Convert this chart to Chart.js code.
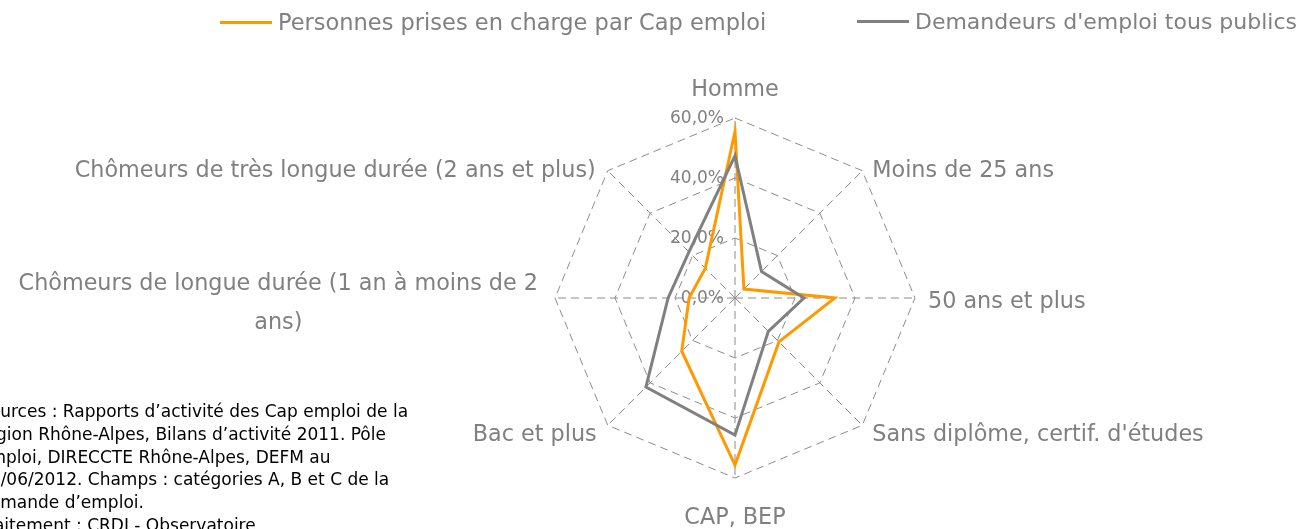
<!DOCTYPE html>
<html lang="fr">
<head>
<meta charset="utf-8">
<script src="https://cdn.jsdelivr.net/npm/chart.js@4.4.1/dist/chart.umd.min.js"></script>
<style>
  html, body { margin: 0; padding: 0; background: #fff; }
  #wrap { position: relative; width: 1307px; height: 529px; overflow: hidden; }
  #graf { position: absolute; left: 0; top: 0; }
  .leg { position: absolute; top: 9px; display: flex; align-items: center; font: 22.5px 'DejaVu Sans'; color: #808080; white-space: nowrap; }
  .leg .l { display: inline-block; width: 52px; height: 3px; margin-right: 6px; }
  #note { position: absolute; left: -21px; top: 400px; font: 17px 'DejaVu Sans'; line-height: 22.8px; color: #000; white-space: nowrap; }
</style>
</head>
<body>
<div id="wrap">
  <canvas id="graf" width="1307" height="529"></canvas>
  <div class="leg" style="left:220px"><span class="l" style="background:#ff9900"></span>Personnes prises en charge par Cap emploi</div>
  <div class="leg" style="right:10px; font-size:22px"><span class="l" style="background:#808080"></span>Demandeurs d'emploi tous publics</div>
  <div id="note">Sources : Rapports d’activité des Cap emploi de la<br>région Rhône-Alpes, Bilans d’activité 2011. Pôle<br>emploi, DIRECCTE Rhône-Alpes, DEFM au<br>30/06/2012. Champs : catégories A, B et C de la<br>demande d’emploi.<br>Traitement : CRDI - Observatoire</div>
</div>
<script>
// Catégories (sens horaire depuis le haut)
const categories = ['Homme', 'Moins de 25 ans', '50 ans et plus', "Sans diplôme, certif. d'études", 'CAP, BEP', 'Bac et plus', 'Chômeurs de longue durée (1 an à moins de 2 ans)', 'Chômeurs de très longue durée (2 ans et plus)'];
// lignes affichées pour chaque libellé
const labelLines = [['Homme'], ['Moins de 25 ans'], ['50 ans et plus'], ["Sans diplôme, certif. d'études"], ['CAP, BEP'], ['Bac et plus'], ['Chômeurs de longue durée (1 an à moins de 2', 'ans)'], ['Chômeurs de très longue durée (2 ans et plus)']];
const capEmploi = [55.5, 4.2, 33.3, 20.7, 55.7, 25.1, 15.3, 14.0];
const tousPublics = [47.4, 12.5, 23.0, 15.7, 45.7, 42.0, 22.3, 21.7];
const tickValues = [0, 20, 40, 60];
const tickLabels = ['0,0%', '20,0%', '40,0%', '60,0%'];

const gris = '#808080';
const fontLabel = "22.3px 'DejaVu Sans'";

// ticks à gauche de l'axe vertical
const ticksPlugin = {
    id: 'ticksGauche',
    beforeDatasetsDraw(chart) {
        const s = chart.scales.r;
        const ctx = chart.ctx;
        ctx.save();
        ctx.font = "17px 'DejaVu Sans'";
        ctx.fillStyle = gris;
        ctx.textAlign = 'right';
        ctx.textBaseline = 'middle';
        tickValues.forEach((v, i) => {
            const p = s.getPointPositionForValue(0, v);
            ctx.fillText(tickLabels[i], p.x - 11, p.y + 1);
        });
        ctx.restore();
    }
};

// libellés des axes
const labelsPlugin = {
    id: 'libelles',
    afterDraw(chart) {
        const s = chart.scales.r;
        const ctx = chart.ctx;
        const R = s.drawingArea;
        ctx.save();
        ctx.font = fontLabel;
        ctx.fillStyle = gris;
        ctx.textBaseline = 'middle';
        // décalages [dx, dy, align]
        const dec = [[0, -28, 'center'], [10, 0, 'left'], [13, 4, 'left'], [10, 10, 'left'],
                     [0, 40, 'center'], [-11, 10, 'right'], [-17, -14, 'right'], [-12, 0, 'right']];
        labelLines.forEach((lines, i) => {
            const p = s.getPointPosition(i, R);
            const d = dec[i];
            ctx.textAlign = d[2];
            ctx.fillText(lines[0], p.x + d[0], p.y + d[1]);
            if (lines.length > 1) {
                const w = ctx.measureText(lines[0]).width;
                ctx.textAlign = 'center';
                ctx.fillText(lines[1], p.x + d[0] - w / 2, p.y + d[1] + 39);
            }
        });
        ctx.restore();
    }
};

new Chart(document.getElementById('graf'), {
    type: 'radar',
    data: {
        labels: categories,
        datasets: [{
            label: 'Personnes prises en charge par Cap emploi',
            data: capEmploi,
            borderColor: '#ff9900',
            borderWidth: 3,
            fill: false,
            pointRadius: 0,
            order: 1
        }, {
            label: "Demandeurs d'emploi tous publics",
            data: tousPublics,
            borderColor: gris,
            borderWidth: 3,
            fill: false,
            pointRadius: 0,
            order: 0
        }]
    },
    options: {
        responsive: false,
        animation: false,
        layout: { padding: { left: 555, right: 392, top: 118, bottom: 51 } },
        plugins: { legend: { display: false }, tooltip: { enabled: false } },
        scales: {
            r: {
                min: 0,
                max: 60,
                ticks: { stepSize: 20, display: false },
                pointLabels: { display: false },
                grid: { color: '#8c8c8c', lineWidth: 1, circular: false },
                border: { dash: [8, 5] },
                angleLines: { color: '#8c8c8c', lineWidth: 1, borderDash: [8, 5] }
            }
        }
    },
    plugins: [ticksPlugin, labelsPlugin]
});
</script>
</body>
</html>
